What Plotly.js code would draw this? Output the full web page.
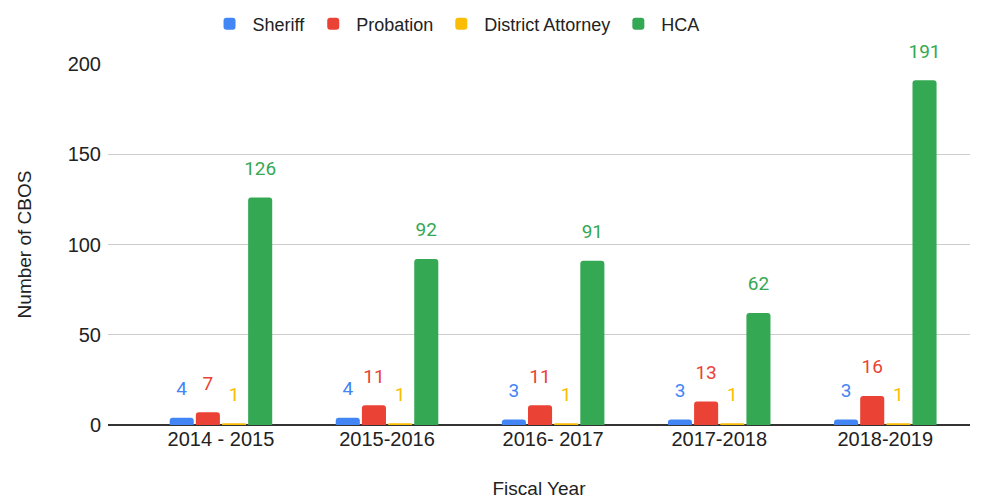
<!DOCTYPE html>
<html>
<head>
<meta charset="utf-8">
<script src="https://cdn.plot.ly/plotly-3.0.1.min.js"></script>
<style>html,body{margin:0;padding:0;background:#fff;}#chart{width:986px;height:500px;}</style>
</head>
<body>
<div id="chart"></div>
<script>
const years = ["2014 - 2015", "2015-2016", "2016- 2017", "2017-2018", "2018-2019"];
const sheriff = [4, 4, 3, 3, 3];
const probation = [7, 11, 11, 13, 16];
const districtAttorney = [1, 1, 1, 1, 1];
const hca = [126, 92, 91, 62, 191];
const seriesNames = ["Sheriff", "Probation", "District Attorney", "HCA"];
const seriesColors = ["#4285F4", "#EA4335", "#FBBC04", "#34A853"];
const seriesValues = [sheriff, probation, districtAttorney, hca];

const barTraces = seriesValues.map((vals, i) => ({
  type: "bar",
  name: seriesNames[i],
  x: years,
  y: vals,
  marker: {color: seriesColors[i]},
  hoverinfo: "x+y+name"
}));

const labelTraces = seriesValues.map((vals, i) => ({
  type: "scatter",
  mode: "markers+text",
  name: seriesNames[i] + " labels",
  showlegend: false,
  x: years,
  y: vals,
  text: vals.map(v => String(v)),
  textposition: "top center",
  marker: {size: 27, opacity: 0, color: seriesColors[i]},
  cliponaxis: false,
  textfont: {family: "Roboto, Liberation Sans, Arial, sans-serif", size: 19, color: seriesColors[i]},
  hoverinfo: "skip"
}));

const layout = {
  width: 986, height: 500,
  margin: {l: 108, r: 16, t: 64, b: 75},
  paper_bgcolor: "#fff", plot_bgcolor: "#fff",
  font: {family: "Liberation Sans, Arial, sans-serif", size: 18, color: "#222"},
  barmode: "group",
  bargap: 0.37,
  bargroupgap: 0.08,
  scattermode: "group",
  scattergap: 0.37,
  barcornerradius: 3,
  showlegend: true,
  legend: {orientation: "h", xref: "container", x: 0.462, xanchor: "center", yref: "container", y: 0.952, yanchor: "middle",
           font: {size: 18, color: "#222"}, itemwidth: 36, traceorder: "normal"},
  xaxis: {
    type: "category",
    range: [-0.68, 4.51],
    showgrid: false,
    showline: false,
    ticks: "",
    tickfont: {size: 20, color: "#222"},
    title: {text: "Fiscal Year", font: {size: 19, color: "#222"}, standoff: 32}
  },
  yaxis: {
    range: [0, 200],
    tickvals: [0, 50, 100, 150, 200],
    gridcolor: "#cccccc",
    zeroline: true, zerolinecolor: "#333", zerolinewidth: 1.3,
    tickfont: {size: 20, color: "#222"},
    ticks: "", ticklen: 0,
    ticklabelstandoff: 6,
    title: {text: "Number of CBOS", font: {size: 19, color: "#222"}, standoff: 30}
  }
};

Plotly.newPlot("chart", barTraces.concat(labelTraces), layout, {displayModeBar: false, staticPlot: true});
</script>
</body>
</html>
